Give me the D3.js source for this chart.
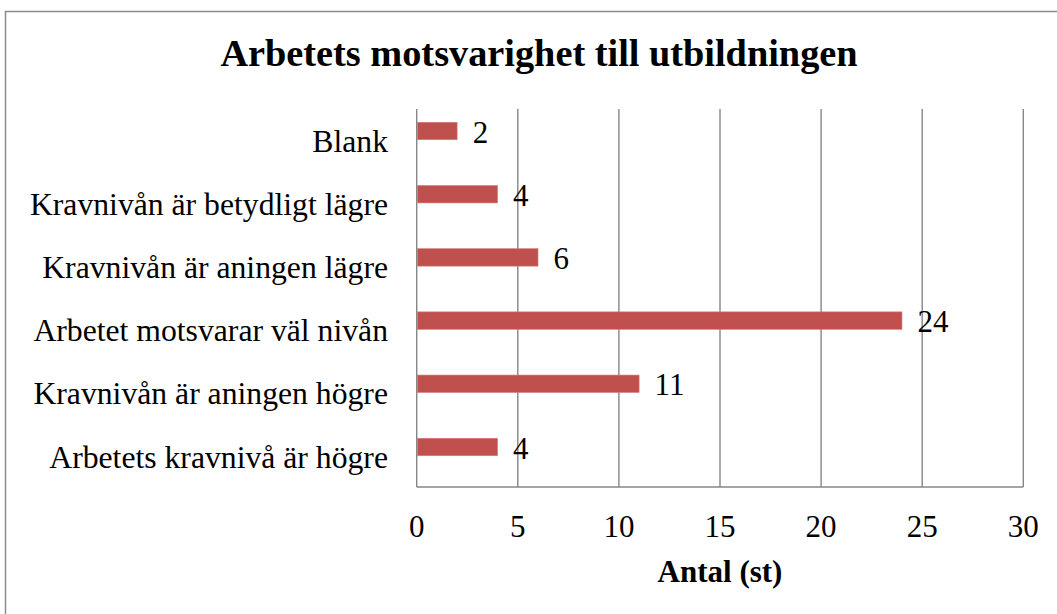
<!DOCTYPE html>
<html>
<head>
<meta charset="utf-8">
<script src="https://cdn.jsdelivr.net/npm/d3@7"></script>
<style>
  body { margin: 0; background: #fff; }
</style>
</head>
<body>
<div id="chart"></div>
<script>
// data
var categories = [
  'Blank',
  'Kravnivån är betydligt lägre',
  'Kravnivån är aningen lägre',
  'Arbetet motsvarar väl nivån',
  'Kravnivån är aningen högre',
  'Arbetets kravnivå är högre'
]
var values = [2, 4, 6, 24, 11, 4]
var xTicks = [0, 5, 10, 15, 20, 25, 30]
var title = 'Arbetets motsvarighet till utbildningen'
var xTitle = 'Antal (st)'

var width = 1057
var height = 614
var plotLeft = 416.7
var plotRight = 1023.3
var plotTop = 109
var plotBottom = 487
var serif = "'Liberation Serif'"

var svg = d3.select('#chart').append('svg')
  .attr('width', width)
  .attr('height', height)

// outer frame
svg.append('rect')
  .attr('x', 5.5).attr('y', 11.5)
  .attr('width', 1060).attr('height', 620)
  .attr('fill', 'none')
  .attr('stroke', '#8c8c8c')
  .attr('stroke-width', 1.5)

var x = d3.scaleLinear().domain([0, 30]).range([plotLeft, plotRight])
var y = d3.scalePoint().domain(categories).range([99.4, 478.6]).padding(0.5)

// vertical gridlines
svg.append('g').selectAll('line')
  .data(xTicks)
  .enter().append('line')
  .attr('x1', function (d) { return x(d) })
  .attr('x2', function (d) { return x(d) })
  .attr('y1', plotTop)
  .attr('y2', plotBottom)
  .attr('stroke', '#868686')
  .attr('stroke-width', 1.4)

// bottom axis line
svg.append('line')
  .attr('x1', plotLeft).attr('x2', plotRight)
  .attr('y1', plotBottom).attr('y2', plotBottom)
  .attr('stroke', '#868686')
  .attr('stroke-width', 1.4)

var barH = 17.5

svg.append('g').selectAll('rect')
  .data(values)
  .enter().append('rect')
  .attr('x', x(0) + 0.7)
  .attr('y', function (d, i) { return y(categories[i]) - barH / 2 })
  .attr('width', function (d) { return x(d) - x(0) - 0.7 })
  .attr('height', barH)
  .attr('fill', '#c0504d')
  .attr('stroke', '#d9807e')
  .attr('stroke-width', 0.6)

// value labels
svg.append('g').selectAll('text')
  .data(values)
  .enter().append('text')
  .attr('x', function (d) { return x(d) + 15.5 })
  .attr('y', function (d, i) { return y(categories[i]) + 11.5 })
  .attr('font-family', serif)
  .attr('font-size', 31)
  .text(function (d) { return d })

// category labels
svg.append('g').selectAll('text')
  .data(categories)
  .enter().append('text')
  .attr('x', 388)
  .attr('y', function (d) { return y(d) + 20.5 })
  .attr('text-anchor', 'end')
  .attr('font-family', serif)
  .attr('font-size', 31.7)
  .text(function (d) { return d })

// tick labels
svg.append('g').selectAll('text')
  .data(xTicks)
  .enter().append('text')
  .attr('x', function (d) { return x(d) })
  .attr('y', 536.5)
  .attr('text-anchor', 'middle')
  .attr('font-family', serif)
  .attr('font-size', 31)
  .text(function (d) { return d })

svg.append('text')
  .attr('x', 720)
  .attr('y', 582)
  .attr('text-anchor', 'middle')
  .attr('font-family', serif)
  .attr('font-size', 31)
  .attr('font-weight', 'bold')
  .text(xTitle)

svg.append('text')
  .attr('x', 539)
  .attr('y', 66)
  .attr('text-anchor', 'middle')
  .attr('font-family', serif)
  .attr('font-size', 38.3)
  .attr('font-weight', 'bold')
  .text(title)
</script>
</body>
</html>
